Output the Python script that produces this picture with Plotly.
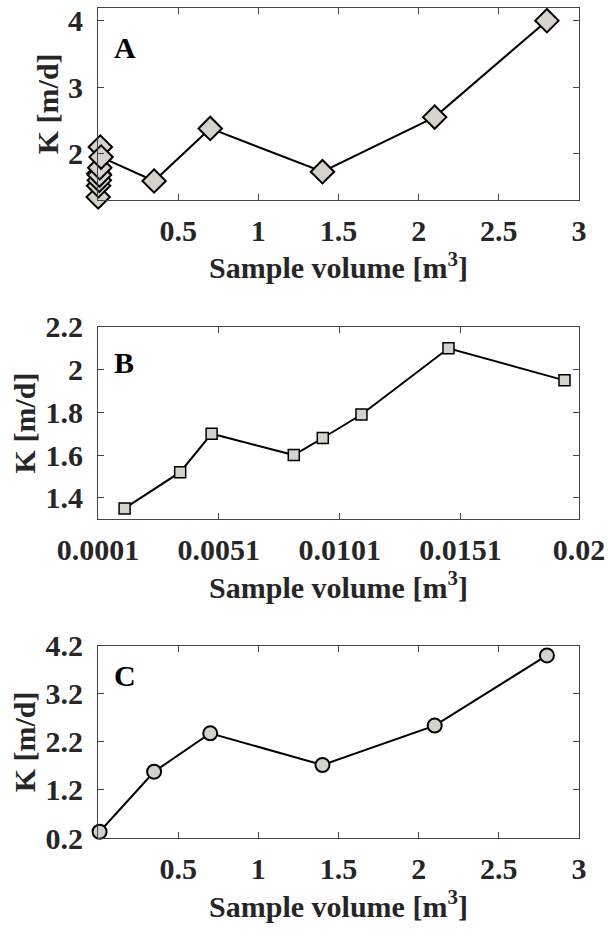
import plotly.graph_objects as go
from plotly.subplots import make_subplots

# Panel B (small samples)
vol_b = [0.0012, 0.0035, 0.0048, 0.0082, 0.0094, 0.0110, 0.0146, 0.0194]
k_b = [1.35, 1.52, 1.70, 1.60, 1.68, 1.79, 2.10, 1.95]

# Panel A (all samples)
vol_a = vol_b + [0.35, 0.70, 1.40, 2.10, 2.80]
k_a = k_b + [1.59, 2.38, 1.73, 2.55, 4.00]

# Panel C
vol_c = [0.01, 0.35, 0.70, 1.40, 2.10, 2.80]
k_c = [0.33, 1.58, 2.38, 1.72, 2.54, 4.00]

xticks_ac = [0.5, 1, 1.5, 2, 2.5, 3]
xticks_b = [0.0001, 0.0051, 0.0101, 0.0151, 0.02]
xticklabels_b = ["0.0001", "0.0051", "0.0101", "0.0151", "0.02"]
yticks_a = [2, 3, 4]
yticks_b = [1.4, 1.6, 1.8, 2.0, 2.2]
yticklabels_b = ["1.4", "1.6", "1.8", "2", "2.2"]
yticks_c = [0.2, 1.2, 2.2, 3.2, 4.2]

FONT = "Times New Roman, Liberation Serif, Tinos, serif"
FS = 30
TXT = "#262626"
AX = "#444444"
FILL = "#d4d2cb"

fig = make_subplots(rows=3, cols=1)

fig.add_trace(go.Scatter(x=vol_a, y=k_a, mode="lines+markers", cliponaxis=False,
                         line=dict(color="black", width=2),
                         marker=dict(symbol="diamond", size=18, color=FILL,
                                     line=dict(color="black", width=2))),
              row=1, col=1)
fig.add_trace(go.Scatter(x=vol_b, y=k_b, mode="lines+markers", cliponaxis=False,
                         line=dict(color="black", width=2),
                         marker=dict(symbol="square", size=11, color=FILL,
                                     line=dict(color="black", width=1.5))),
              row=2, col=1)
fig.add_trace(go.Scatter(x=vol_c, y=k_c, mode="lines+markers", cliponaxis=False,
                         line=dict(color="black", width=2),
                         marker=dict(symbol="circle", size=14, color=FILL,
                                     line=dict(color="black", width=2))),
              row=3, col=1)

axis_common = dict(showline=True, linecolor=AX, linewidth=1, mirror="ticks",
                   ticks="inside", ticklen=6, tickcolor=AX, showgrid=False,
                   zeroline=False, automargin=False,
                   tickfont=dict(family=FONT, size=FS, color=TXT))
xtitle = dict(text="<b>Sample volume [m<sup>3</sup>]</b>",
              font=dict(family=FONT, size=FS, color=TXT), standoff=11)
ytitle = dict(text="<b>K [m/d]</b>", font=dict(family=FONT, size=FS, color=TXT),
              standoff=0)

fig.update_xaxes(**axis_common)
fig.update_yaxes(**axis_common)

fig.update_layout(
    xaxis=dict(domain=[0, 1], range=[0.0001, 3], tickvals=xticks_ac,
               ticktext=[f"<b>{v:g}</b>" for v in xticks_ac], title=xtitle,
               ticklabelstandoff=4),
    yaxis=dict(domain=[0.7691, 1.0], range=[1.31, 4.19], tickvals=yticks_a,
               ticktext=[f"<b>{v:g}</b>" for v in yticks_a], title=ytitle,
               ticklabelstandoff=8),
    xaxis2=dict(domain=[0, 1], range=[0.0001, 0.02], tickvals=xticks_b,
                ticktext=[f"<b>{t}</b>" for t in xticklabels_b], title=xtitle,
                ticklabelstandoff=4),
    yaxis2=dict(domain=[0.3842, 0.6157], range=[1.3, 2.2], tickvals=yticks_b,
                ticktext=[f"<b>{t}</b>" for t in yticklabels_b], title=ytitle,
                ticklabelstandoff=8),
    xaxis3=dict(domain=[0, 1], range=[0.0001, 3], tickvals=xticks_ac,
                ticktext=[f"<b>{v:g}</b>" for v in xticks_ac], title=xtitle,
                ticklabelstandoff=4),
    yaxis3=dict(domain=[0.0, 0.2315], range=[0.2, 4.2], tickvals=yticks_c,
                ticktext=[f"<b>{v:g}</b>" for v in yticks_c], title=ytitle,
                ticklabelstandoff=8),
)

for lab, xr, yr, dy in [("A", "x domain", "y domain", 39),
                        ("B", "x2 domain", "y2 domain", 36),
                        ("C", "x3 domain", "y3 domain", 30)]:
    fig.add_annotation(text=f"<b>{lab}</b>", xref=xr, yref=yr, x=0, y=1,
                       xanchor="left", yanchor="middle", xshift=14, yshift=-dy,
                       showarrow=False,
                       font=dict(family=FONT, size=FS, color="black"))

fig.update_layout(width=608, height=936, showlegend=False,
                  margin=dict(l=98, r=29, t=8, b=98),
                  paper_bgcolor="white", plot_bgcolor="white")

fig.write_html("out.html", config={"displayModeBar": False},
               post_script="document.body.style.margin='0';document.body.style.overflow='hidden';")
